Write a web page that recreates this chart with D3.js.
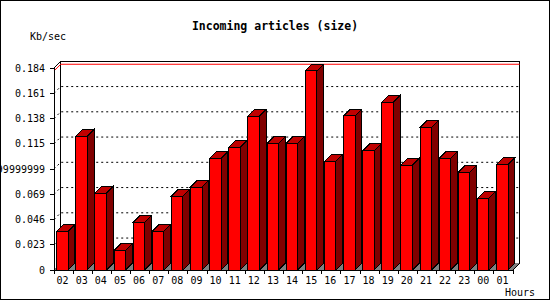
<!DOCTYPE html>
<html>
<head>
<meta charset="utf-8">
<script src="https://cdn.jsdelivr.net/npm/d3@7/dist/d3.min.js"></script>
<style>
    html, body { margin: 0; padding: 0; background: #ffffff; }
    #chart { width: 550px; height: 300px; }
</style>
</head>
<body>
<div id="chart"></div>
<script>
"use strict";

const hours = ["02", "03", "04", "05", "06", "07", "08", "09", "10", "11", "12", "13",
    "14", "15", "16", "17", "18", "19", "20", "21", "22", "23", "00", "01"];
const sizeKb = [0.0352, 0.1218, 0.0699, 0.0179, 0.0434, 0.0352, 0.0674, 0.0756, 0.1017, 0.1118, 0.140, 0.1154,
    0.1154, 0.1813, 0.099, 0.1405, 0.1087, 0.1528, 0.0956, 0.130, 0.1017, 0.089, 0.0653, 0.0963];
const tickValues = [0, 0.023, 0.046, 0.069, 0.092, 0.115, 0.138, 0.161, 0.184];
const tickLabels = ["0", "0.023", "0.046", "0.069", "0.09199999999999999", "0.115", "0.138", "0.161", "0.184"];

(function () {
    const width = 550;
    const height = 300;
    const depth = 6.7;
    const font = "'DejaVu Sans Mono', monospace";

    const svg = d3.select("#chart")
        .append("svg")
        .attr("width", width)
        .attr("height", height)
        .style("font-family", font)
        .attr("shape-rendering", "crispEdges");

    svg.append("rect")
        .attr("x", 0.5).attr("y", 0.5)
        .attr("width", width - 1).attr("height", height - 1)
        .attr("fill", "#ffffff").attr("stroke", "#000000");

    const x = d3.scaleBand().domain(hours).range([54, 513]).padding(0);
    const y = d3.scaleLinear().domain([0, 0.184]).range([270, 68]);

    const left = 54, right = 513, bottom = y(0), top = y(0.184);

    // floor
    svg.append("path")
        .attr("d", `M${left},${bottom}L${right},${bottom}L${right + depth},${bottom - depth}L${left + depth},${bottom - depth}Z`)
        .attr("fill", "#808080");

    // back wall frame
    svg.append("path")
        .attr("d", `M${left + depth},${bottom - depth}V${top - depth}H${right + depth}V${bottom - depth}`)
        .attr("fill", "none").attr("stroke", "#000000");

    // dotted grid on back wall plus the diagonal going to the front axis
    const grid = svg.append("g")
        .attr("stroke", "#000000")
        .attr("stroke-dasharray", "2,3")
        .attr("fill", "none");
    tickValues.slice(1, -1).forEach((v) => {
        grid.append("path")
            .attr("shape-rendering", "auto")
            .attr("d", `M${left},${y(v)}L${left + depth},${y(v) - depth}H${right + depth}`);
    });

    // max line
    const maxV = d3.max(sizeKb);
    svg.append("path")
        .attr("shape-rendering", "auto")
        .attr("d", `M${left},${y(maxV)}L${left + depth},${y(maxV) - depth}H${right + depth}`)
        .attr("fill", "none").attr("stroke", "#ff0000");

    // top-left diagonal
    svg.append("path")
        .attr("shape-rendering", "auto")
        .attr("d", `M${left},${top}L${left + depth},${top - depth}`)
        .attr("stroke", "#000000");

    // bars
    const barOff = 2.7;
    const barW = x.bandwidth() * 0.6;
    const bars = svg.append("g").attr("stroke", "#000000").attr("stroke-linejoin", "miter");
    hours.forEach((h, i) => {
        const x0 = x(h) + barOff;
        const x1 = x0 + barW;
        const yt = y(sizeKb[i]);
        const g = bars.append("g");
        g.append("path")
            .attr("d", `M${x1},${bottom}L${x1 + depth},${bottom - depth}V${yt - depth}L${x1},${yt}Z`)
            .attr("fill", "#800000");
        g.append("path")
            .attr("d", `M${x0},${yt}L${x0 + depth},${yt - depth}H${x1 + depth}L${x1},${yt}Z`)
            .attr("fill", "#c00000");
        g.append("rect")
            .attr("x", x0).attr("y", yt)
            .attr("width", barW).attr("height", bottom - yt)
            .attr("fill", "#ff0000");
    });

    // front axes
    const axes = svg.append("g").attr("stroke", "#000000").attr("fill", "none");
    axes.append("path").attr("d", `M${left},${top}V${bottom}H${right}L${right + depth},${bottom - depth}`);
    tickValues.forEach((v) => {
        axes.append("path").attr("d", `M${left - 4},${y(v)}H${left}`);
    });
    hours.forEach((h) => {
        axes.append("path").attr("d", `M${x(h)},${bottom}V${bottom + 4}`);
    });
    axes.append("path").attr("d", `M${right},${bottom}V${bottom + 4}`);

    // texts
    svg.append("g")
        .attr("text-anchor", "end")
        .style("font-size", "10px")
        .selectAll("text")
        .data(tickValues)
        .join("text")
        .attr("x", 45)
        .attr("y", (d) => y(d) + 3.5)
        .text((d, i) => tickLabels[i]);

    svg.append("g")
        .attr("text-anchor", "middle")
        .style("font-size", "10px")
        .selectAll("text")
        .data(hours)
        .join("text")
        .attr("x", (d) => x(d) + x.bandwidth() / 2 - 1)
        .attr("y", 284)
        .text((d) => d);

    svg.append("text")
        .attr("x", width / 2).attr("y", 30)
        .attr("text-anchor", "middle")
        .style("font-size", "11.5px")
        .style("font-weight", "bold")
        .text("Incoming articles (size)");

    svg.append("text")
        .attr("x", 30).attr("y", 40)
        .style("font-size", "10px")
        .text("Kb/sec");

    svg.append("text")
        .attr("x", 505).attr("y", 296)
        .style("font-size", "10px")
        .text("Hours");
})();
</script>
</body>
</html>
